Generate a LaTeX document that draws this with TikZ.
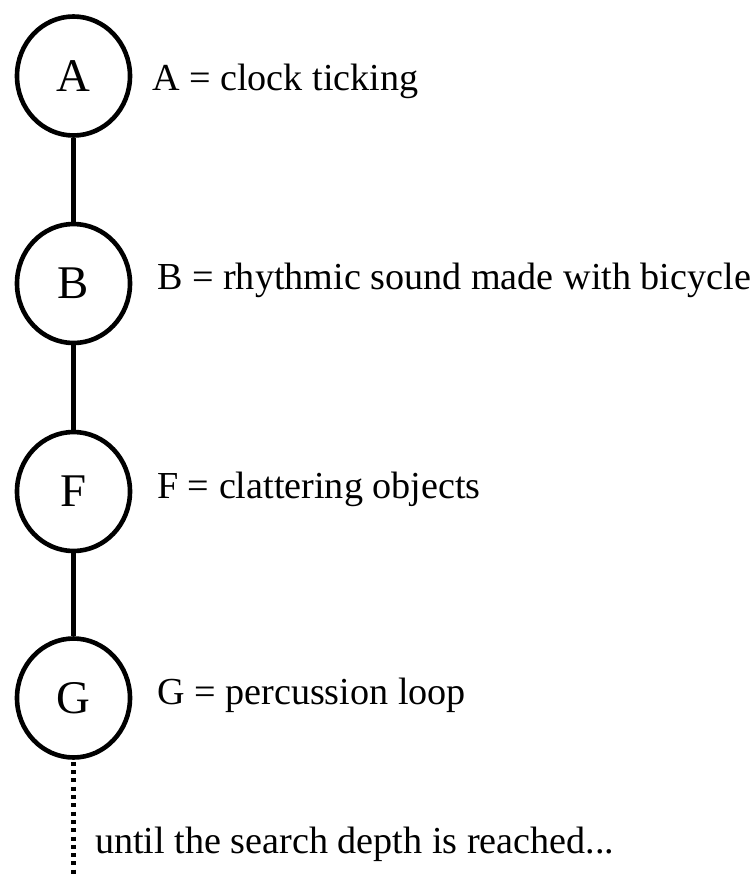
\documentclass[tikz,border=0pt]{standalone}
\usepackage{fontspec}
\setmainfont{Liberation Serif}
\usetikzlibrary{shapes.geometric}
\begin{document}
\begin{tikzpicture}[x=1bp,y=-1bp,
  state/.style={ellipse,draw,line width=4.6bp,minimum width=113bp,minimum height=119bp,inner sep=0pt,font=\fontsize{47}{52}\selectfont},
  lbl/.style={anchor=base west,inner sep=0pt,font=\fontsize{38.3}{42}\selectfont},
  link/.style={line width=4.2bp},
  dots/.style={line width=4.5bp,dash pattern=on 4bp off 4.3bp}]
\useasboundingbox (0,0) rectangle (756,876);
\node[state] (A) at (73.5,76) {A};
\node[state] (B) at (73.5,283.5) {B};
\node[state] (F) at (73.5,491.5) {F};
\node[state] (G) at (73.5,698) {G};
\draw[link] (A) -- (B);
\draw[link] (B) -- (F);
\draw[link] (F) -- (G);
\coordinate (end) at (73.5,876);
\draw[dots] ([yshift=-2bp]G.south) -- (end);
\node[lbl] (la) at (152,90) {A = clock ticking};
\node[lbl] (lb) at (157,289) {B = rhythmic sound made with bicycle};
\node[lbl] (lf) at (157,498) {F = clattering objects};
\node[lbl] (lg) at (157,704) {G = percussion loop};
\node[lbl] (lu) at (95,853) {until the search depth is reached...};
\end{tikzpicture}
\end{document}
